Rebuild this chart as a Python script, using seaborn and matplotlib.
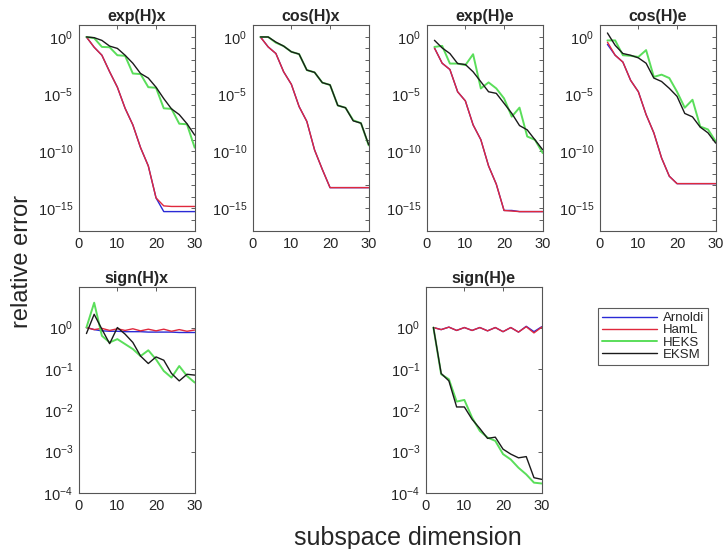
import numpy as np
import pandas as pd
import matplotlib
matplotlib.use("Agg")
import matplotlib.pyplot as plt
import seaborn as sns
from matplotlib.ticker import FixedLocator, NullFormatter, NullLocator

# ---------------------------------------------------------------
# dados (expoentes log10 do erro relativo)
# ---------------------------------------------------------------
dims = [2, 4, 6, 8, 10, 12, 14, 16, 18, 20, 22, 24, 26, 28, 30]

methods = ["Arnoldi", "HamL", "HEKS", "EKSM"]
titles = ["exp(H)x", "cos(H)x", "exp(H)e", "cos(H)e", "sign(H)x", "sign(H)e"]

# exp(H)x
exphx_arnoldi = [0, -0.9, -1.6, -3.05, -4.4, -6.25, -7.7, -9.7, -11.3, -14.1, -15.3, -15.3, -15.3, -15.3, -15.3]
exphx_haml = [0, -0.9, -1.6, -3.05, -4.4, -6.25, -7.7, -9.7, -11.3, -14.1, -14.8, -14.85, -14.85, -14.85, -14.85]
exphx_heks = [0, -0.1, -0.87, -0.9, -1.6, -1.65, -3.2, -3.25, -4.4, -4.45, -6.25, -6.3, -7.6, -7.65, -9.7]
exphx_eksm = [0, -0.06, -0.3, -0.8, -1.0, -1.6, -2.3, -3.2, -3.6, -4.4, -5.4, -6.3, -6.8, -7.6, -8.6]

# cos(H)x
coshx_arnoldi = [0, -0.87, -1.45, -3.05, -4.15, -6.1, -7.4, -9.9, -11.6, -13.2, -13.2, -13.2, -13.2, -13.2, -13.2]
coshx_haml = [0, -0.87, -1.45, -3.05, -4.15, -6.1, -7.4, -9.9, -11.6, -13.2, -13.2, -13.2, -13.2, -13.2, -13.2]
coshx_heks = [0, 0, -0.5, -0.8, -1.3, -1.5, -2.9, -3.1, -4.0, -4.2, -6.0, -6.2, -7.3, -7.55, -9.5]
coshx_eksm = [0, 0, -0.45, -0.8, -1.3, -1.5, -2.9, -3.1, -4.0, -4.2, -6.0, -6.2, -7.35, -7.55, -9.45]

# exp(H)e
exphe_arnoldi = [-0.96, -2.3, -2.85, -4.8, -5.6, -7.7, -9.0, -11.3, -12.9, -15.2, -15.2, -15.3, -15.3, -15.3, -15.3]
exphe_haml = [-0.96, -2.3, -2.85, -4.8, -5.6, -7.7, -9.0, -11.3, -12.9, -15.2, -15.25, -15.3, -15.3, -15.3, -15.3]
exphe_heks = [-0.87, -0.78, -2.33, -2.33, -2.47, -1.51, -4.51, -3.98, -4.51, -5.38, -6.98, -6.19, -8.72, -9.01, -10.17]
exphe_eksm = [-0.29, -0.96, -1.45, -2.33, -2.41, -3.05, -3.92, -4.8, -4.94, -5.81, -6.69, -7.76, -8.14, -9.01, -9.88]

# cos(H)e
coshe_arnoldi = [-0.65, -1.6, -2.2, -3.8, -4.8, -6.8, -8.4, -10.6, -12.2, -12.85, -12.85, -12.85, -12.85, -12.85, -12.85]
coshe_haml = [-0.45, -1.6, -2.2, -3.8, -4.8, -6.8, -8.4, -10.6, -12.2, -12.85, -12.85, -12.85, -12.85, -12.85, -12.85]
coshe_heks = [-0.3, -0.3, -1.6, -1.65, -1.75, -1.15, -3.5, -3.3, -3.6, -4.8, -6.2, -5.5, -7.85, -8.1, -9.15]
coshe_eksm = [0.35, -0.73, -1.45, -1.6, -1.83, -2.3, -3.6, -3.9, -4.5, -5.2, -6.7, -7.0, -7.9, -8.4, -9.3]

# sign(H)x
signhx_arnoldi = [0, -0.05, -0.08, -0.09, -0.09, -0.1, -0.1, -0.1, -0.11, -0.11, -0.11, -0.11, -0.12, -0.12, -0.12]
signhx_haml = [0, -0.05, -0.02, -0.07, -0.03, -0.07, -0.03, -0.08, -0.04, -0.08, -0.04, -0.09, -0.05, -0.09, -0.06]
signhx_heks = [0, 0.6, -0.2, -0.36, -0.28, -0.4, -0.52, -0.69, -0.55, -0.77, -1.05, -1.21, -0.93, -1.17, -1.33]
signhx_eksm = [-0.145, 0.32, -0.04, -0.39, 0.0, -0.16, -0.36, -0.69, -0.87, -0.71, -0.79, -1.11, -1.29, -1.13, -1.15]

# sign(H)e
signhe_arnoldi = [0, -0.05, 0.01, -0.07, 0, -0.07, 0, -0.08, 0, -0.1, 0, -0.11, 0.03, -0.1, 0.02]
signhe_haml = [0, -0.05, 0.01, -0.07, 0, -0.07, 0, -0.08, 0, -0.1, 0, -0.11, 0.02, -0.13, 0.01]
signhe_heks = [0, -1.13, -1.25, -1.79, -1.75, -2.18, -2.5, -2.66, -2.74, -3.06, -3.19, -3.39, -3.55, -3.75, -3.77]
signhe_eksm = [0, -1.11, -1.29, -1.92, -1.92, -2.22, -2.44, -2.68, -2.65, -2.94, -3.06, -3.15, -3.12, -3.63, -3.67]

panels = [
    [exphx_arnoldi, exphx_haml, exphx_heks, exphx_eksm],
    [coshx_arnoldi, coshx_haml, coshx_heks, coshx_eksm],
    [exphe_arnoldi, exphe_haml, exphe_heks, exphe_eksm],
    [coshe_arnoldi, coshe_haml, coshe_heks, coshe_eksm],
    [signhx_arnoldi, signhx_haml, signhx_heks, signhx_eksm],
    [signhe_arnoldi, signhe_haml, signhe_heks, signhe_eksm],
]

cores = {"Arnoldi": "#2a2ad6", "HamL": "#e0283c", "HEKS": "#5ade5a", "EKSM": "#1a1a1a"}
larguras = {"Arnoldi": 1.0, "HamL": 1.0, "HEKS": 1.4, "EKSM": 1.0}

sns.set_style("white")
plt.rcParams["font.family"] = ["Liberation Sans", "DejaVu Sans"]
plt.rcParams["mathtext.default"] = "regular"

W, H = 727, 549
fig = plt.figure(figsize=(W / 100, H / 100), dpi=100)

# posições (px) das caixas de eixos
lefts_top = [78.7, 252.7, 426.7, 599.7]
lefts_bot = [78.7, 425.7]
aw, ah = 116, 206


def novo_eixo(left_px, top_px):
    return fig.add_axes([left_px / W, 1 - (top_px + ah) / H, aw / W, ah / H])


eixos = [novo_eixo(l, 25) for l in lefts_top] + [novo_eixo(l, 287) for l in lefts_bot]

for k, ax in enumerate(eixos):
    for metodo, vals in zip(methods, panels[k]):
        df = pd.DataFrame({"dim": dims, "err": np.power(10.0, vals)})
        sns.lineplot(data=df, x="dim", y="err", ax=ax, color=cores[metodo],
                     linewidth=larguras[metodo], label=metodo, legend=False)
    ax.set_yscale("log")
    ax.set_xlim(0, 30)
    ax.set_xticks([0, 10, 20, 30])
    if k < 4:
        ax.set_ylim(1e-17, 10 ** 1.05)
        ax.yaxis.set_major_locator(FixedLocator([1e-15, 1e-10, 1e-5, 1e0]))
        ax.yaxis.set_minor_locator(FixedLocator([10.0 ** p for p in range(-16, 1)]))
        ax.yaxis.set_minor_formatter(NullFormatter())
        ax.set_yticklabels(["$10^{-15}$", "$10^{-10}$", "$10^{-5}$", "$10^{0}$"])
    else:
        ax.set_ylim(1e-4, 10 ** 0.98)
        ax.yaxis.set_major_locator(FixedLocator([1e-4, 1e-3, 1e-2, 1e-1, 1e0]))
        ax.yaxis.set_minor_locator(NullLocator())
        ax.set_yticklabels(["$10^{-4}$", "$10^{-3}$", "$10^{-2}$", "$10^{-1}$", "$10^{0}$"])
    ax.set_xlabel("")
    ax.set_ylabel("")
    ax.set_title(titles[k], fontsize=11.5, fontweight="bold", pad=3)
    ax.tick_params(which="both", direction="in", top=True, right=True,
                   length=3, width=0.6, color="#444444", labelsize=10.5,
                   labelcolor="#262626", pad=4)
    for sp in ax.spines.values():
        sp.set_color("#555555")
        sp.set_linewidth(0.8)

handles, labels = eixos[0].get_legend_handles_labels()
leg = fig.legend(handles, labels, loc="upper left",
                 bbox_to_anchor=(598 / W, 1 - 308 / H), frameon=True,
                 fancybox=False, edgecolor="#333333", fontsize=9.5,
                 handlelength=4.2, labelspacing=0.0, borderpad=0.3,
                 handletextpad=0.4, borderaxespad=0)
leg.get_frame().set_linewidth(0.8)

fig.text(22 / W, 1 - 262 / H, "relative error", rotation=90, fontsize=17,
         ha="center", va="center", color="#262626")
fig.text(408 / W, 1 - 538 / H, "subspace dimension", fontsize=18,
         ha="center", va="center", color="#262626")

fig.savefig("out.png", dpi=100)
